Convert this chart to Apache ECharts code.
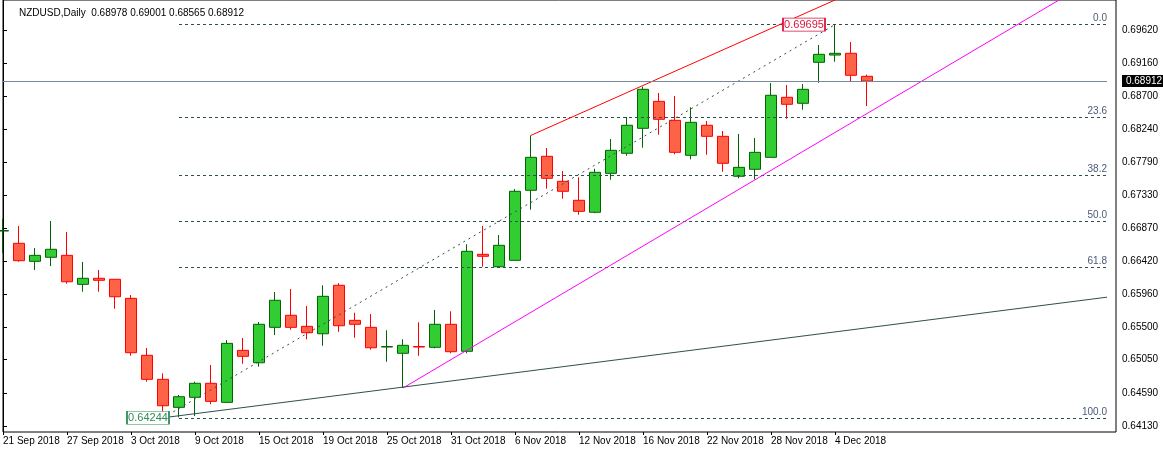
<!DOCTYPE html>
<html><head><meta charset="utf-8">
<script src="https://cdn.jsdelivr.net/npm/echarts@6/dist/echarts.min.js"></script>
<style>html,body{margin:0;padding:0;background:#fff}#c{width:1163px;height:449px}</style>
</head><body><div id="c"></div>
<script>
const dates = ['21 Sep 2018','24 Sep 2018','25 Sep 2018','26 Sep 2018','27 Sep 2018','28 Sep 2018','1 Oct 2018','2 Oct 2018','3 Oct 2018','4 Oct 2018','5 Oct 2018','8 Oct 2018','9 Oct 2018','10 Oct 2018','11 Oct 2018','12 Oct 2018','15 Oct 2018','16 Oct 2018','17 Oct 2018','18 Oct 2018','19 Oct 2018','22 Oct 2018','23 Oct 2018','24 Oct 2018','25 Oct 2018','26 Oct 2018','29 Oct 2018','30 Oct 2018','31 Oct 2018','1 Nov 2018','2 Nov 2018','5 Nov 2018','6 Nov 2018','7 Nov 2018','8 Nov 2018','9 Nov 2018','12 Nov 2018','13 Nov 2018','14 Nov 2018','15 Nov 2018','16 Nov 2018','19 Nov 2018','20 Nov 2018','21 Nov 2018','22 Nov 2018','23 Nov 2018','26 Nov 2018','27 Nov 2018','28 Nov 2018','29 Nov 2018','30 Nov 2018','3 Dec 2018','4 Dec 2018','5 Dec 2018','6 Dec 2018'];
const futureSlots = ['','','','','','','','','','','','','','',''];
const opens  = [0.66833,0.66663,0.66413,0.66469,0.66496,0.66094,0.66178,0.66164,0.65900,0.65110,0.64777,0.64389,0.64528,0.64722,0.64458,0.65179,0.65007,0.65498,0.65665,0.65512,0.65409,0.66081,0.65595,0.65498,0.65225,0.65138,0.65232,0.65221,0.65540,0.65166,0.66510,0.66338,0.66427,0.67398,0.67869,0.67522,0.67259,0.67093,0.67633,0.67911,0.68257,0.68631,0.68368,0.67883,0.68299,0.68146,0.67592,0.67689,0.67855,0.68687,0.68604,0.69172,0.69273,0.69297,0.68978];
const closes = [0.66840,0.66422,0.66496,0.66580,0.66130,0.66178,0.66150,0.65922,0.65146,0.64777,0.64411,0.64536,0.64722,0.64472,0.65276,0.65096,0.65540,0.65873,0.65498,0.65423,0.65928,0.65520,0.65540,0.65215,0.65232,0.65249,0.65225,0.65540,0.65160,0.66552,0.66483,0.66635,0.67384,0.67855,0.67564,0.67384,0.67106,0.67647,0.67952,0.68299,0.68798,0.68382,0.67924,0.68340,0.68146,0.67772,0.67716,0.67924,0.68715,0.68590,0.68798,0.69283,0.69297,0.68992,0.68912];
const lows   = [0.66528,0.66408,0.66293,0.66348,0.66103,0.65992,0.65992,0.65756,0.65104,0.64744,0.64244,0.64250,0.64268,0.64431,0.64450,0.64994,0.64952,0.65391,0.65465,0.65332,0.65243,0.65437,0.65354,0.65188,0.65021,0.64657,0.65104,0.65207,0.65138,0.65138,0.66338,0.66330,0.66420,0.67129,0.67420,0.67281,0.67059,0.67080,0.67545,0.67877,0.67988,0.68168,0.67897,0.67827,0.67891,0.67655,0.67564,0.67550,0.67850,0.68390,0.68515,0.68889,0.69181,0.68909,0.68565];
const highs  = [0.67000,0.66903,0.66598,0.66972,0.66819,0.66404,0.66293,0.66168,0.65946,0.65211,0.64860,0.64560,0.64744,0.64976,0.65322,0.65350,0.65572,0.65988,0.66029,0.65794,0.66081,0.66112,0.65701,0.65683,0.65457,0.65332,0.65568,0.65738,0.65720,0.66649,0.66903,0.66778,0.67416,0.68160,0.67984,0.67665,0.67578,0.67697,0.68109,0.68414,0.68834,0.68747,0.68705,0.68548,0.68358,0.68220,0.68178,0.68123,0.68885,0.68857,0.68871,0.69412,0.69695,0.69454,0.69001];
const priceTicks = [0.69620,0.69160,0.68700,0.68240,0.67790,0.67330,0.66870,0.66420,0.65960,0.65500,0.65050,0.64590,0.64130];
const fibLevels = ['0.0','23.6','38.2','50.0','61.8','100.0'];
const fibLow = 0.64244, fibHigh = 0.69695;
const lastPrice = 0.68912;
const yMin = 0.64047, yMax = 0.70036;

const cats = dates.concat(futureSlots);
const ohlc = opens.map((o,i)=>[o, closes[i], lows[i], highs[i]]);
const font = 'Liberation Sans';
const last = cats.length - 1;
const fibLines = fibLevels.map(l => {
  const v = fibHigh - (fibHigh - fibLow) * parseFloat(l) / 100;
  return [{coord:[11, v], label:{show:true, formatter:l, position:'insideEndTop', color:'#4a5a78', fontSize:10, fontFamily:font, distance:[0,1]}},{coord:[last, v]}];
});
const lineStyle = (c, t) => ({color:c, width:1, type:t||'solid'});
const trend = [
  [{coord:[10, fibLow], lineStyle:lineStyle('#2f4f4f',[2,4])},{coord:[52, fibHigh]}],
  [{coord:[33, 0.68160], lineStyle:lineStyle('#ff0000')},{coord:[52, yMax]}],
  [{coord:[25, 0.64657], lineStyle:lineStyle('#ff00ff')},{coord:[66, yMax]}],
  [{coord:[10, fibLow], lineStyle:lineStyle('#2f4f4f')},{coord:[last, 0.65916]}],
  [{coord:[0, lastPrice], lineStyle:lineStyle('#778899')},{coord:[last, lastPrice]}]
];
const chart = echarts.init(document.getElementById('c'));
chart.setOption({
  animation:false,
  backgroundColor:'#fff',
  title:{text:'NZDUSD,Daily  0.68978 0.69001 0.68565 0.68912', left:14, top:3, textStyle:{fontSize:10, fontWeight:'normal', fontFamily:font, color:'#000'}},
  grid:[
    {left:3, right:56, top:0, bottom:17},
    {left:3, right:47, top:0, bottom:17, show:true, borderColor:'#000', borderWidth:1, backgroundColor:'transparent'}
  ],
  xAxis:[
    {type:'category', data:cats, boundaryGap:false, gridIndex:0,
     axisLine:{show:false}, axisTick:{show:true, interval:(i,v)=>v!=='' && i%4===0, length:3, lineStyle:{color:'#000'}},
     axisLabel:{interval:3, align:'left', fontSize:10, fontFamily:font, color:'#000', margin:4}, splitLine:{show:false}},
    {type:'value', gridIndex:1, min:0, max:1, show:false}
  ],
  yAxis:[
    {type:'value', gridIndex:0, min:yMin, max:yMax, show:false, splitLine:{show:false}},
    {type:'value', gridIndex:1, min:yMin, max:yMax, position:'right', splitLine:{show:false},
     axisLine:{show:true, lineStyle:{color:'#000'}},
     axisTick:{show:true, customValues:priceTicks, length:4, lineStyle:{color:'#000'}},
     axisLabel:{customValues:priceTicks, formatter:v=>v.toFixed(5), fontSize:10, fontFamily:font, color:'#000', margin:6}}
  ],
  series:[
    {type:'candlestick', xAxisIndex:0, yAxisIndex:0, data:ohlc, barWidth:11,
     itemStyle:{color:'#32cd32', color0:'#ff6347', borderColor:'#006400', borderColor0:'#ff0000', borderWidth:1},
     markLine:{symbol:'none', silent:true, animation:false, label:{show:false},
       lineStyle:{color:'#2f4f4f', type:[3,3], width:1},
       data: fibLines.concat(trend)},
     markPoint:{symbol:'rect', symbolSize:[42,13], silent:true,
       data:[
         {coord:[10, fibLow], symbolOffset:[-15,0], itemStyle:{color:'#fff', borderColor:'#2e8b57', borderWidth:1},
          label:{show:true, formatter:fibLow.toFixed(5), color:'#2e8b57', fontSize:11, fontFamily:font}},
         {coord:[52, fibHigh], symbolOffset:[-31,0], itemStyle:{color:'#fff', borderColor:'#dc143c', borderWidth:1},
          label:{show:true, formatter:fibHigh.toFixed(5), color:'#dc143c', fontSize:11, fontFamily:font}},
         {coord:[last, lastPrice], symbolOffset:[37,0], symbolSize:[44,12], itemStyle:{color:'#000'},
          label:{show:true, formatter:lastPrice.toFixed(5), color:'#fff', fontSize:10, fontFamily:font}}
       ]}
    }
  ]
});
</script></body></html>
